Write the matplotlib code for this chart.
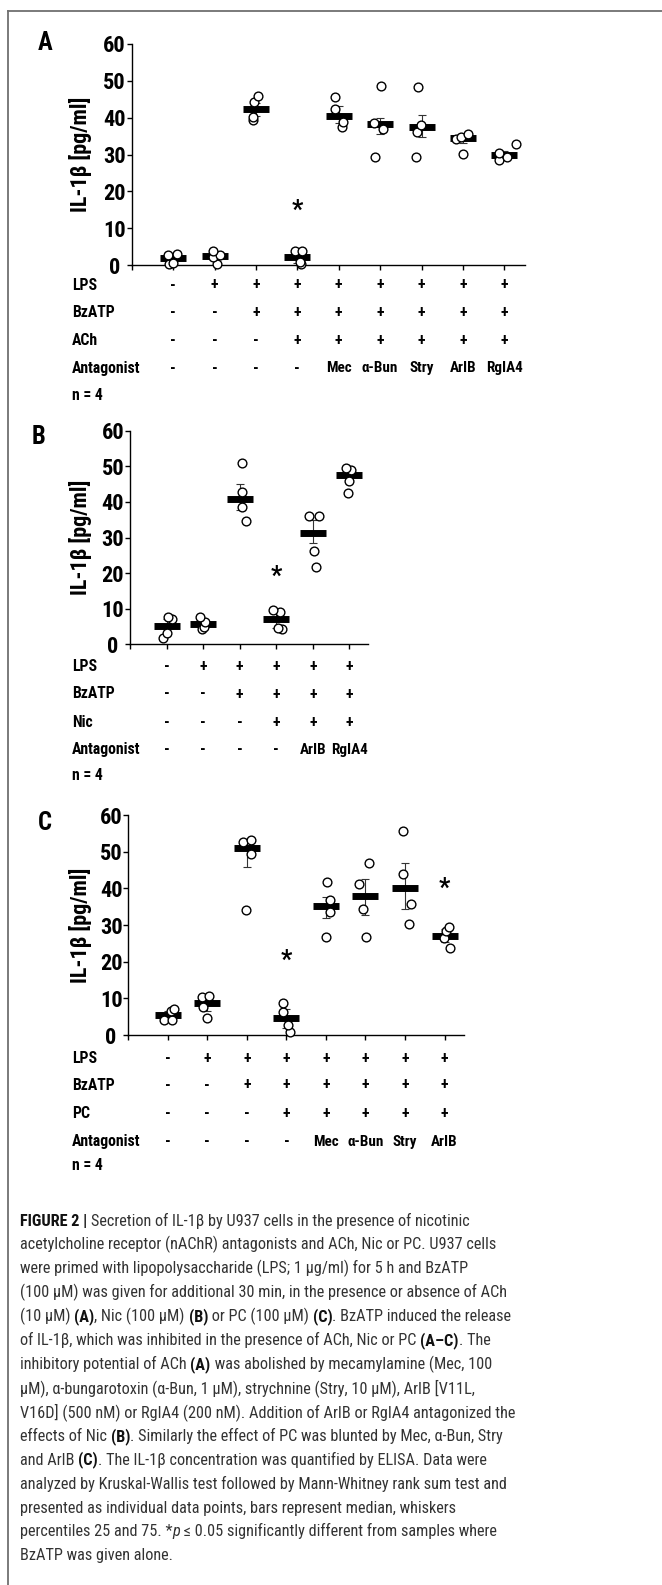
import numpy as np
import matplotlib
matplotlib.use("Agg")
import matplotlib.pyplot as plt
from matplotlib import font_manager, transforms

W, H = 662, 1585

# ---------------- data ----------------
# panel A: ACh
a_points = [[0.3, 0.6, 2.7, 2.9], [0.2, 2.3, 2.8, 3.7], [39.3, 40.3, 44.3, 45.9],
            [0.3, 0.8, 3.8, 3.9], [37.5, 38.9, 42.3, 45.5], [29.3, 37.0, 38.5, 48.7],
            [29.4, 36.2, 38.0, 48.2], [30.1, 34.2, 34.8, 35.6], [28.5, 29.2, 30.5, 32.8]]
a_jitter = [[-4, 0, -5, 4], [2, -2, 5, -2], [-3, -3, -2, 2], [4, 3, -2, 5], [3, 4, -4, -4],
            [-5, 3, -6, 1], [-6, -5, -1, -3], [0, -7, -2, 5], [-5, 3, -5, 12]]
a_median = [1.8, 2.5, 42.4, 2.3, 40.5, 38.2, 37.4, 34.6, 30.0]
a_q25 = [1.0, 1.8, 40.5, 0.6, 38.5, 35.7, 34.7, 33.0, 29.0]
a_q75 = [2.6, 3.0, 44.0, 3.8, 43.2, 40.0, 40.7, 35.2, 31.0]
a_star_x = [4]
a_star_y = [15.8]
a_rows = ["LPS", "BzATP", "ACh", "Antagonist"]
a_table = [["-", "+", "+", "+", "+", "+", "+", "+", "+"],
           ["-", "-", "+", "+", "+", "+", "+", "+", "+"],
           ["-", "-", "-", "+", "+", "+", "+", "+", "+"],
           ["-", "-", "-", "-", "Mec", "α-Bun", "Stry", "ArIB", "RgIA4"]]

# panel B: Nic
b_points = [[1.7, 3.3, 7.0, 7.6], [4.2, 5.0, 6.2, 7.6], [34.7, 38.7, 42.9, 51.0],
            [4.4, 4.6, 9.1, 9.5], [21.8, 26.3, 35.9, 36.0], [42.4, 46.0, 49.0, 49.4]]
b_jitter = [[-4, 0, 5, 1], [-1, 1, 2, -3], [6, 2, 2, 2], [6, 2, 4, -3], [3, 1, 6, -4], [-1, 0, 2, -3]]
b_median = [5.2, 5.6, 40.8, 7.0, 31.3, 47.6]
b_q25 = [3.0, 4.8, 37.7, 4.5, 28.4, 45.2]
b_q75 = [7.1, 6.5, 45.0, 9.2, 35.0, 49.1]
b_star_x = [4]
b_star_y = [20.1]
b_rows = ["LPS", "BzATP", "Nic", "Antagonist"]
b_table = [["-", "+", "+", "+", "+", "+"],
           ["-", "-", "+", "+", "+", "+"],
           ["-", "-", "-", "+", "+", "+"],
           ["-", "-", "-", "-", "ArIB", "RgIA4"]]

# panel C: PC
c_points = [[4.0, 4.2, 6.6, 7.2], [4.7, 7.7, 10.4, 10.6], [34.1, 49.4, 52.5, 53.2],
            [0.9, 2.7, 6.4, 8.6], [26.8, 33.6, 36.8, 41.6], [26.8, 34.5, 41.2, 47.0],
            [30.3, 35.7, 43.9, 55.5], [23.6, 26.4, 28.4, 29.4]]
c_jitter = [[-4, 4, 3, 6], [0, -4, -5, 2], [-1, 4, -4, 4], [4, 2, -3, -3], [0, 4, 4, 1],
            [1, -2, -6, 4], [4, 6, -2, -2], [5, -1, 1, 4]]
c_median = [5.4, 8.8, 51.1, 4.7, 35.2, 37.9, 40.0, 27.1]
c_q25 = [4.2, 6.6, 45.9, 1.8, 31.8, 32.7, 34.5, 25.5]
c_q75 = [6.6, 10.4, 52.7, 7.0, 37.7, 42.5, 46.8, 28.9]
c_star_x = [4, 8]
c_star_y = [21.5, 40.9]
c_rows = ["LPS", "BzATP", "PC", "Antagonist"]
c_table = [["-", "+", "+", "+", "+", "+", "+", "+"],
           ["-", "-", "+", "+", "+", "+", "+", "+"],
           ["-", "-", "-", "+", "+", "+", "+", "+"],
           ["-", "-", "-", "-", "Mec", "α-Bun", "Stry", "ArIB"]]

y_ticks = [0, 10, 20, 30, 40, 50, 60]

caption = [
    [("FIGURE 2 | ", "b"), ("Secretion of IL-1β by U937 cells in the presence of nicotinic", "n")],
    [("acetylcholine receptor (nAChR) antagonists and ACh, Nic or PC. U937 cells", "n")],
    [("were primed with lipopolysaccharide (LPS; 1 μg/ml) for 5 h and BzATP", "n")],
    [("(100 μM) was given for additional 30 min, in the presence or absence of ACh", "n")],
    [("(10 μM) ", "n"), ("(A)", "b"), (", Nic (100 μM) ", "n"), ("(B)", "b"), (" or PC (100 μM) ", "n"),
     ("(C)", "b"), (". BzATP induced the release", "n")],
    [("of IL-1β, which was inhibited in the presence of ACh, Nic or PC ", "n"), ("(A–C)", "b"), (". The", "n")],
    [("inhibitory potential of ACh ", "n"), ("(A)", "b"), (" was abolished by mecamylamine (Mec, 100", "n")],
    [("μM), α-bungarotoxin (α-Bun, 1 μM), strychnine (Stry, 10 μM), ArIB [V11L,", "n")],
    [("V16D] (500 nM) or RgIA4 (200 nM). Addition of ArIB or RgIA4 antagonized the", "n")],
    [("effects of Nic ", "n"), ("(B)", "b"), (". Similarly the effect of PC was blunted by Mec, α-Bun, Stry", "n")],
    [("and ArIB ", "n"), ("(C)", "b"), (". The IL-1β concentration was quantified by ELISA. Data were", "n")],
    [("analyzed by Kruskal-Wallis test followed by Mann-Whitney rank sum test and", "n")],
    [("presented as individual data points, bars represent median, whiskers", "n")],
    [("percentiles 25 and 75. *", "n"), ("p", "i"), (" ≤ 0.05 significantly different from samples where", "n")],
    [("BzATP was given alone.", "n")],
]


def pick_font(cands):
    have = {f.name for f in font_manager.fontManager.ttflist}
    for c in cands:
        if c in have:
            return c
    return "DejaVu Sans"


NARROW = pick_font(["Liberation Sans Narrow", "Arial Narrow", "Roboto Condensed",
                    "Open Sans Condensed", "DejaVu Sans Condensed", "Liberation Sans"])
FAM = [NARROW, "DejaVu Sans"]
plt.rcParams["font.family"] = FAM

fig = plt.figure(figsize=(W / 100, H / 100), dpi=100)
renderer = fig.canvas.get_renderer()


def fy(py):
    return 1 - py / H


def text_width(s, size, **kw):
    # width in px, trailing spaces counted (measured against a bar glyph)
    t1 = fig.text(0, 0, s + "|", fontsize=size, **kw)
    t2 = fig.text(0, 0, "|", fontsize=size, **kw)
    w = t1.get_window_extent(renderer).width - t2.get_window_extent(renderer).width
    t1.remove()
    t2.remove()
    return w


def fit(s, target_px, **kw):
    return 10.0 * target_px / text_width(s, 10.0, **kw)


BOLD = dict(fontweight="bold")
ROW_FS = fit("Antagonist", 69, **BOLD)
NAME_FS = fit("Mec", 25.7, **BOLD)
PLUS_FS = fit("+", 7.5, **BOLD)
STAR_FS = fit("*", 11.5, **BOLD)
YLAB_FS = fit("IL-1β [pg/ml]", 115, **BOLD)
TICK_FS = YLAB_FS * 1.02
LETTER_FS = YLAB_FS * 1.12


def draw_panel(box, letter, letter_xy, points, jitter, median, q25, q75, star_x, star_y,
               rows, table, row_y, n_y):
    left, right, top, bottom = box
    ax = fig.add_axes([left / W, fy(bottom), (right - left) / W, (bottom - top) / H])
    n = len(median)
    x = np.arange(1, n + 1)
    ax.set_xlim(0, n + 0.5)
    ax.set_ylim(0, 60)
    unit = (right - left) / (n + 0.5)  # px per category

    ax.errorbar(x, median, yerr=[np.array(median) - np.array(q25), np.array(q75) - np.array(median)],
                fmt="none", ecolor="#333333", elinewidth=0.8, capsize=2.6, capthick=0.8, zorder=2)
    ax.plot(x, median, ls="none", marker="_", ms=19.2, mew=5.0, color="black", zorder=3)
    for i, (vals, dxs) in enumerate(zip(points, jitter)):
        xs = x[i] + np.array(dxs) / unit
        ax.plot(xs, vals, ls="none", marker="o", ms=6.3, mfc="white", mec="black", mew=1.0,
                zorder=4, clip_on=False)
    for sx, sy in zip(star_x, star_y):
        # glyph sits high in its box, so nudge it down a little
        ax.annotate("*", (sx, sy), xytext=(0, -3), textcoords="offset points", ha="center",
                    va="center", fontsize=STAR_FS, fontweight="bold")

    for s in ["top", "right"]:
        ax.spines[s].set_visible(False)
    for s in ["left", "bottom"]:
        ax.spines[s].set_linewidth(1.0)
    ax.set_yticks(y_ticks)
    ax.set_yticklabels([str(t) for t in y_ticks], fontsize=TICK_FS, fontweight="bold")
    for lab in ax.get_yticklabels():
        lab.set_horizontalalignment("center")
    ax.tick_params(axis="y", direction="out", length=3.6, width=1.0, pad=8.8)
    ax.set_xticks(np.arange(0, n + 1))
    ax.set_xticklabels([])
    ax.tick_params(axis="x", direction="out", length=3.6, width=1.0)

    fig.text(80 / W, fy((top + bottom) / 2), "IL-1β [pg/ml]", rotation=90, ha="center",
             va="center", fontsize=YLAB_FS, fontweight="bold")
    fig.text(letter_xy[0] / W, fy(letter_xy[1]), letter, ha="center", va="center",
             fontsize=LETTER_FS, fontweight="bold")

    tr = transforms.blended_transform_factory(ax.transData, fig.transFigure)
    for label, syms, ry in zip(rows, table, row_y):
        fig.text(71.7 / W, fy(ry), label, ha="left", va="center", fontsize=ROW_FS, fontweight="bold")
        for xi, s in zip(x, syms):
            fs = PLUS_FS if s in "+-" else NAME_FS
            ax.text(xi, fy(ry), s, transform=tr, ha="center", va="center", fontsize=fs,
                    fontweight="bold", clip_on=False)
    fig.text(71.7 / W, fy(n_y), "n = 4", ha="left", va="center", fontsize=ROW_FS, fontweight="bold")
    return ax


draw_panel((131.7, 525, 44, 265), "A", (45, 43), a_points, a_jitter, a_median, a_q25, a_q75,
           a_star_x, a_star_y, a_rows, a_table, [285, 312.7, 340.7, 368.3], 395)
draw_panel((130, 367.7, 430.7, 644.3), "B", (38.3, 437.3), b_points, b_jitter, b_median, b_q25,
           b_q75, b_star_x, b_star_y, b_rows, b_table, [666.7, 694, 722.3, 750], 775)
draw_panel((128.3, 464.3, 815, 1035), "C", (45, 823.3), c_points, c_jitter, c_median, c_q25,
           c_q75, c_star_x, c_star_y, c_rows, c_table, [1058.3, 1085, 1113.3, 1141.7], 1165)

# frame: top and left rules only
fig.add_artist(plt.Line2D([8 / W, 1], [fy(11), fy(11)], color="#707070", lw=1.3))
fig.add_artist(plt.Line2D([8 / W, 8 / W], [fy(11), 0], color="#707070", lw=1.3))

# ---------------- caption ----------------


def style_kw(style):
    if style == "b":
        return dict(fontweight="bold", color="#111111")
    if style == "i":
        return dict(fontstyle="italic", color="#333333")
    return dict(color="#333333")


def line_width(line, size):
    return sum(text_width(s, size, **style_kw(st)) for s, st in line)


cap_size = 12.0 * 492 / line_width(caption[4], 12.0)
x0, y0, dy = 20, 1225.7, 23.9
for i, line in enumerate(caption):
    xc = x0
    for s, st in line:
        fig.text(xc / W, fy(y0 + i * dy), s, ha="left", va="baseline", fontsize=cap_size,
                 **style_kw(st))
        xc += text_width(s, cap_size, **style_kw(st))

fig.savefig("out.png", dpi=100)
